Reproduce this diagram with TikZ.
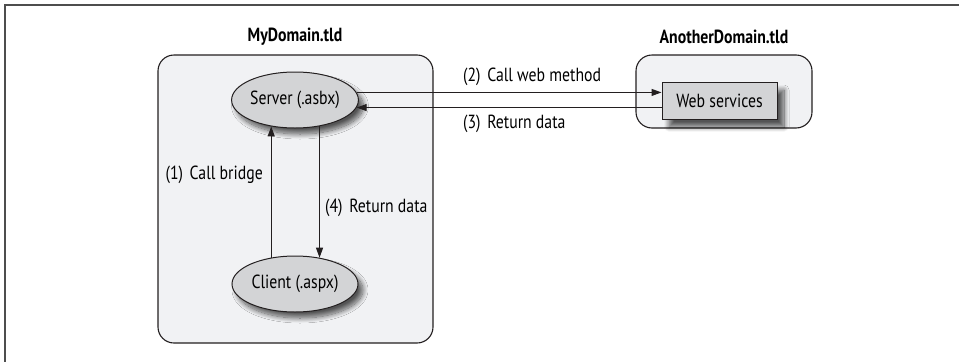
\documentclass[tikz,border=0pt]{standalone}
\usepackage{fontspec}
\setmainfont{PT Sans}[FakeStretch=0.83]
\usetikzlibrary{arrows.meta,shapes.geometric,shadows.blur}
\definecolor{boxfill}{HTML}{F1F2F4}
\definecolor{nodefill}{HTML}{D3D4D6}
\definecolor{linecol}{HTML}{231F20}
\definecolor{framecol}{HTML}{4D4D4D}
\tikzset{
  domainbox/.style={draw=linecol, line width=1.1pt, fill=boxfill, rounded corners=16pt},
  ellnode/.style={ellipse, draw=linecol, line width=1pt, fill=nodefill,
    minimum width=126pt, minimum height=56pt, inner sep=0pt, font=\fontsize{19}{22}\selectfont,
    blur shadow={shadow xshift=5pt, shadow yshift=-6pt, shadow blur radius=5pt, shadow blur steps=12, shadow opacity=65}},
  wsnode/.style={rectangle, draw=linecol, line width=1pt, fill=nodefill,
    minimum width=115pt, minimum height=37pt, inner sep=0pt, font=\fontsize{19}{22}\selectfont,
    blur shadow={shadow xshift=7pt, shadow yshift=-8pt, shadow blur radius=5pt, shadow blur steps=12, shadow opacity=65}},
  titletext/.style={font=\bfseries\fontsize{19}{22}\selectfont, inner sep=0pt},
  lbl/.style={font=\fontsize{19}{22}\selectfont, inner sep=0pt},
  arr/.style={draw=linecol, line width=1pt, -{Triangle[length=10pt,width=7pt]}},
}
\begin{document}
\begin{tikzpicture}[x=1pt,y=-1pt]
\useasboundingbox (0,0) rectangle (959,362);
\draw[framecol, line width=1.5pt] (959,5) -- (5,5) -- (5,362);
% domains
\draw[domainbox] (158,55) rectangle (433,343);
\draw[domainbox] (636,55) rectangle (812,128);
\node[titletext] (t1) at (295,37) {MyDomain.tld};
\node[titletext] (t2) at (724,37) {AnotherDomain.tld};
% nodes
\node[ellnode] (server) at (295,100) {Server (.asbx)};
\node[ellnode] (client) at (295,284) {Client (.aspx)};
\node[wsnode] (ws) at (719.5,100.5) {Web services};
% connectors
\draw[arr] (server.7.5) -- (server.7.5 -| ws.west);
\draw[arr] (server.-7.5 -| ws.west) -- (server.-7.5);
\draw[arr] (client.132.8) -- (client.132.8 |- server.-132.8);
\draw[arr] (server.-47.2) -- (server.-47.2 |- client.47.2);
% labels
\node[lbl, anchor=east] (l1) at (263,175) {(1)\hspace{0.35em}Call bridge};
\node[lbl, anchor=west] (l4) at (325,208) {(4)\hspace{0.35em}Return data};
\node[lbl, anchor=west] (l2) at (463,77) {(2)\hspace{0.35em}Call web method};
\node[lbl, anchor=west] (l3) at (463,124) {(3)\hspace{0.35em}Return data};
\end{tikzpicture}
\end{document}
